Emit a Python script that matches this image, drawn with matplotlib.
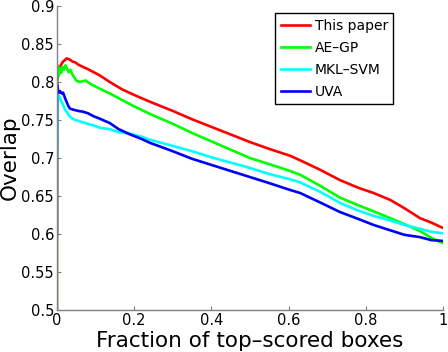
import matplotlib
matplotlib.use("Agg")
import matplotlib.pyplot as plt
from matplotlib.ticker import FixedLocator, FixedFormatter

# ---- data ----
red_x = [0, 0, 0.004, 0.010, 0.016, 0.021, 0.025, 0.032, 0.040, 0.047, 0.055, 0.067, 0.080,
         0.095, 0.110, 0.137, 0.17, 0.20, 0.241, 0.30, 0.35, 0.40, 0.45, 0.50, 0.55, 0.604,
         0.63, 0.68, 0.733, 0.78, 0.82, 0.863, 0.90, 0.94, 0.97, 1.0]
red_y = [0.5, 0.80, 0.812, 0.822, 0.827, 0.829, 0.831, 0.830, 0.827, 0.826, 0.823, 0.820, 0.817,
         0.813, 0.809, 0.800, 0.790, 0.783, 0.774, 0.762, 0.751, 0.741, 0.731, 0.721, 0.712, 0.703,
         0.697, 0.685, 0.671, 0.661, 0.654, 0.645, 0.634, 0.621, 0.615, 0.608]

green_x = [0, 0, 0.002, 0.005, 0.008, 0.011, 0.014, 0.018, 0.022, 0.026, 0.030, 0.035, 0.040,
           0.045, 0.050, 0.058, 0.067, 0.075, 0.085, 0.10, 0.12, 0.137, 0.17, 0.20, 0.241, 0.30,
           0.35, 0.40, 0.45, 0.50, 0.55, 0.604, 0.63, 0.68, 0.733, 0.78, 0.82, 0.863, 0.90, 0.94,
           0.97, 1.0]
green_y = [0.5, 0.80, 0.822, 0.808, 0.818, 0.812, 0.820, 0.816, 0.822, 0.818, 0.813, 0.816, 0.810,
           0.806, 0.802, 0.800, 0.801, 0.802, 0.798, 0.794, 0.789, 0.785, 0.776, 0.768, 0.758, 0.745,
           0.733, 0.722, 0.711, 0.700, 0.692, 0.683, 0.678, 0.664, 0.648, 0.638, 0.630, 0.621, 0.613,
           0.604, 0.595, 0.588]

cyan_x = [0, 0.002, 0.005, 0.008, 0.012, 0.016, 0.021, 0.025, 0.030, 0.035, 0.040, 0.047, 0.055,
          0.067, 0.08, 0.095, 0.11, 0.137, 0.16, 0.19, 0.22, 0.241, 0.30, 0.35, 0.40, 0.45, 0.50,
          0.55, 0.604, 0.63, 0.68, 0.733, 0.78, 0.82, 0.863, 0.90, 0.94, 0.97, 1.0]
cyan_y = [0.70, 0.775, 0.782, 0.779, 0.774, 0.770, 0.764, 0.761, 0.757, 0.754, 0.752, 0.750, 0.749,
          0.747, 0.745, 0.743, 0.740, 0.738, 0.734, 0.732, 0.728, 0.724, 0.716, 0.709, 0.701, 0.694,
          0.687, 0.679, 0.672, 0.668, 0.656, 0.641, 0.631, 0.624, 0.618, 0.612, 0.607, 0.603, 0.601]

blue_x = [0, 0, 0.002, 0.005, 0.008, 0.012, 0.016, 0.021, 0.025, 0.030, 0.034, 0.040, 0.047,
          0.055, 0.067, 0.08, 0.095, 0.11, 0.137, 0.16, 0.19, 0.22, 0.241, 0.30, 0.35, 0.40, 0.45,
          0.50, 0.55, 0.604, 0.63, 0.68, 0.733, 0.78, 0.82, 0.863, 0.90, 0.94, 0.97, 1.0]
blue_y = [0.60, 0.798, 0.792, 0.786, 0.788, 0.785, 0.786, 0.779, 0.774, 0.768, 0.765, 0.764, 0.763,
          0.762, 0.761, 0.759, 0.755, 0.752, 0.746, 0.738, 0.731, 0.725, 0.720, 0.709, 0.699, 0.691,
          0.683, 0.675, 0.667, 0.658, 0.654, 0.642, 0.629, 0.620, 0.612, 0.605, 0.599, 0.596, 0.592,
          0.591]

series_labels = ["This paper", "AE\u2013GP", "MKL\u2013SVM", "UVA"]
x_ticks = [0, 0.2, 0.4, 0.6, 0.8, 1.0]
x_tick_labels = ["0", "0.2", "0.4", "0.6", "0.8", "1"]
y_ticks = [0.5, 0.55, 0.6, 0.65, 0.7, 0.75, 0.8, 0.85, 0.9]
y_tick_labels = ["0.5", "0.55", "0.6", "0.65", "0.7", "0.75", "0.8", "0.85", "0.9"]

plt.rcParams['font.family'] = ['DejaVu Sans']

fig = plt.figure(figsize=(4.48, 3.52), dpi=100)
ax = fig.add_axes([0.127, 0.119, 0.862, 0.864])

lw = 1.9
ax.plot(red_x, red_y, color=(1, 0, 0), lw=lw, label=series_labels[0])
ax.plot(green_x, green_y, color=(0, 1, 0), lw=lw, label=series_labels[1])
ax.plot(cyan_x, cyan_y, color=(0, 1, 1), lw=lw, label=series_labels[2])
ax.plot(blue_x, blue_y, color=(0, 0, 1), lw=lw, label=series_labels[3])

ax.set_xlim(0, 1)
ax.set_ylim(0.5, 0.9)
ax.xaxis.set_major_locator(FixedLocator(x_ticks))
ax.xaxis.set_major_formatter(FixedFormatter(x_tick_labels))
ax.yaxis.set_major_locator(FixedLocator(y_ticks))
ax.yaxis.set_major_formatter(FixedFormatter(y_tick_labels))

for s in ['top', 'right']:
    ax.spines[s].set_visible(False)
for s in ['left', 'bottom']:
    ax.spines[s].set_color('#808080')
    ax.spines[s].set_linewidth(1.0)
ax.tick_params(direction='in', length=3, width=0.8, color='#808080',
               labelsize=10.5, labelcolor='black', pad=2)

ax.set_xlabel("Fraction of top\u2013scored boxes", fontsize=15.5, labelpad=2)
ax.set_ylabel("Overlap", fontsize=15.5, labelpad=1)

leg = ax.legend(loc='upper left', bbox_to_anchor=(0.565, 0.977), fontsize=10,
                frameon=True, fancybox=False, edgecolor='black', framealpha=1,
                handlelength=2.1, handletextpad=0.35, labelspacing=0.58,
                borderpad=0.4, borderaxespad=0)
leg.get_frame().set_linewidth(1.0)

fig.savefig("out.png", dpi=100)
